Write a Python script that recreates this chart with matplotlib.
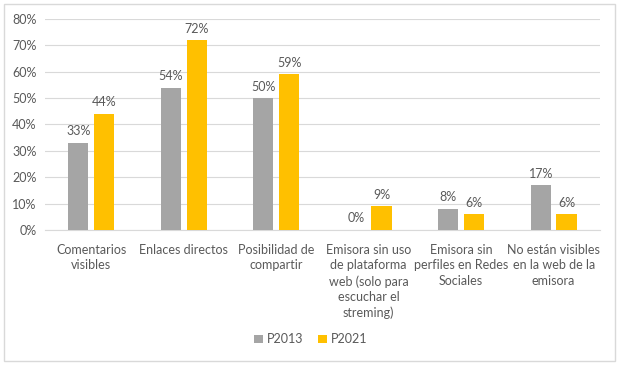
import numpy as np
import matplotlib
matplotlib.use("Agg")
import matplotlib.pyplot as plt
from matplotlib.patches import Rectangle

categorias = ["Comentarios\nvisibles", "Enlaces directos", "Posibilidad de\ncompartir",
              "Emisora sin uso\nde plataforma\nweb (solo para\nescuchar el\nstreming)",
              "Emisora sin\nperfiles en Redes\nSociales", "No están visibles\nen la web de la\nemisora"]
p2013 = [33, 54, 50, 0, 8, 17]
p2021 = [44, 72, 59, 9, 6, 6]
series = ["P2013", "P2021"]

plt.rcParams['font.family'] = ['Lato', 'DejaVu Sans']
txt = '#595959'

fig = plt.figure(figsize=(6.21, 3.65), dpi=100)
fig.patches.append(Rectangle((0.006, 0.012), 0.985, 0.978, transform=fig.transFigure,
                             fill=False, edgecolor='#d9d9d9', lw=1))
ax = fig.add_axes([0.0725, 0.370, 0.8935, 0.578])

x = np.arange(len(categorias))
w = 0.22
b1 = ax.bar(x - 0.14, p2013, w, color='#A5A5A5', label=series[0], zorder=3)
b2 = ax.bar(x + 0.14, p2021, w, color='#FFC000', label=series[1], zorder=3)
for bars, vals in [(b1, p2013), (b2, p2021)]:
    for r, v in zip(bars, vals):
        ax.annotate(f"{v}%", (r.get_x() + r.get_width() / 2, v), xytext=(0, 4),
                    textcoords='offset points', ha='center', va='bottom', fontsize=9, color=txt)

ax.set_xlim(-0.5, len(categorias) - 0.5)
ax.set_ylim(0, 80)
ax.set_yticks(range(0, 81, 10))
ax.set_yticklabels([f"{t}%" for t in range(0, 81, 10)], fontsize=9, color=txt)
ax.set_xticks(x)
ax.set_xticklabels(categorias, fontsize=9, color=txt, va='top', linespacing=1.35)
ax.tick_params(length=0, pad=10)
ax.tick_params(axis='y', pad=6)
ax.grid(axis='y', color='#d9d9d9', lw=0.8, zorder=0)
for s in ['top', 'right', 'left']:
    ax.spines[s].set_visible(False)
ax.spines['bottom'].set_color('#d9d9d9')

fig.legend(loc='center', bbox_to_anchor=(0.5, 0.07), ncol=2, frameon=False, fontsize=9,
           handlelength=0.7, handleheight=0.7, handletextpad=0.3, columnspacing=1.2,
           labelcolor=txt)

fig.savefig("out.png", dpi=100)
